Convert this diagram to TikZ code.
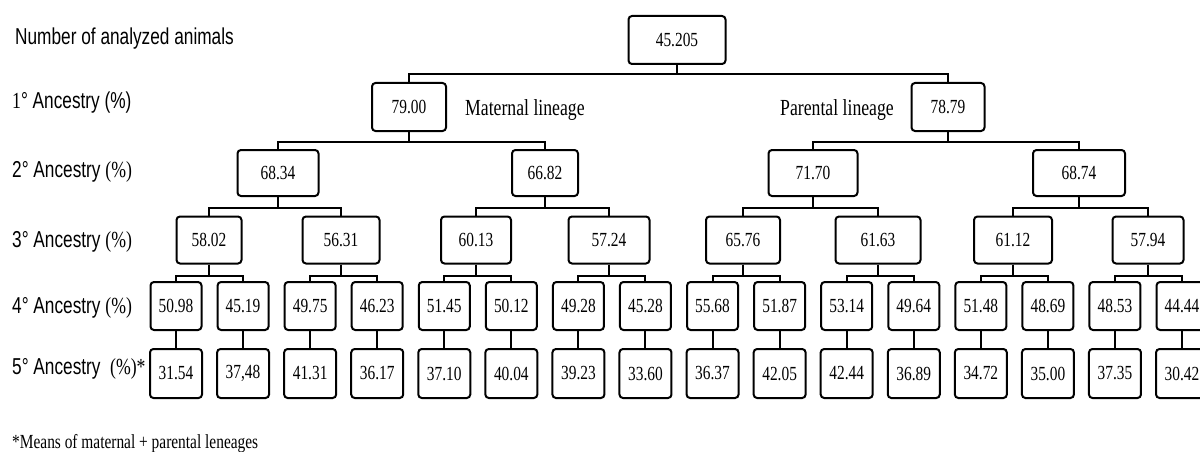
\documentclass[tikz,border=0pt]{standalone}
\usepackage{fontspec}
\setmainfont{Liberation Serif}
\newfontfamily\numfont{Liberation Serif}[FakeStretch=0.77]
\newfontfamily\rowfont{Liberation Sans}[FakeStretch=0.75]

\tikzset{
  valbox/.style={draw, rounded corners=3.5pt, line width=2pt, inner sep=0pt,
    minimum height=47pt, font=\numfont\fontsize{20}{22}\selectfont},
  link/.style={line width=2pt},
  rowlabel/.style={anchor=base west, inner sep=0pt,
    font=\rowfont\fontsize{23}{26}\selectfont},
  linelabel/.style={inner sep=0pt, font=\numfont\fontsize{23}{26}\selectfont},
}

\begin{document}
\begin{tikzpicture}[x=1pt, y=-1pt]
\useasboundingbox (0,0) rectangle (1200,452);

% 1. row labels on the left
\node[rowlabel] (n0) at (15,45) {Number of analyzed animals};
\node[rowlabel] (n1) at (12,109) {{\numfont 1}° Ancestry (\%)};
\node[rowlabel] (n2) at (12,177) {2° Ancestry {\numfont(\%)}};
\node[rowlabel] (n3) at (12,247) {3° Ancestry {\numfont(\%)}};
\node[rowlabel] (n4) at (12,313) {4° Ancestry {\numfont(\%)}};
\node[rowlabel] (n5) at (12,374) {5° Ancestry\ \ {\numfont(\%)*}};
\node[anchor=base west, inner sep=0pt, font=\numfont\fontsize{20}{22}\selectfont]
  (note) at (12,448) {*Means of maternal + parental leneages};

% 2. root and 1st ancestry
\node[valbox, minimum width=97pt, minimum height=48pt] (r) at (677,40) {45.205};
\node[valbox, minimum width=74pt, minimum height=48pt] (a1) at (409,107) {79.00};
\node[valbox, minimum width=73pt, minimum height=48pt] (a2) at (948,107) {78.79};
\node[linelabel, anchor=base west] (mat) at (465,115) {Maternal lineage};
\node[linelabel, anchor=base east] (pat) at (894,115) {Parental lineage};
\draw[link] (r.south) -- ++(0,9) -| (a1.north);
\draw[link] (r.south) -- ++(0,9) -| (a2.north);

% 3. 2nd ancestry
\foreach \i/\x/\w/\v in {1/278/81/68.34, 2/545/66/66.82, 3/813/89/71.70, 4/1079/92/68.74}
  {\node[valbox, minimum width=\w pt, minimum height=46pt] (b\i) at (\x,173) {\v};}
\foreach \p/\ka/\kb in {1/1/2, 2/3/4}
  {\draw[link] (a\p.south) -- ++(0,10) -| (b\ka.north);
   \draw[link] (a\p.south) -- ++(0,10) -| (b\kb.north);
  }

% 4. 3rd ancestry
\foreach \i/\x/\w/\v in
    {1/209/65/58.02, 2/341/77/56.31, 3/476/70/60.13, 4/609/81/57.24,
     5/743/74/65.76, 6/878/85/61.63, 7/1013/78/61.12, 8/1148/71/57.94}
  {\node[valbox, minimum width=\w pt] (c\i) at (\x,240) {\v};}
\foreach \p in {1,...,4}
  {\pgfmathtruncatemacro\ka{2*\p-1}
   \pgfmathtruncatemacro\kb{2*\p}
   \draw[link] (b\p.south) -- ++(0,11) -| (c\ka.north);
   \draw[link] (b\p.south) -- ++(0,11) -| (c\kb.north);
  }

% 5. 4th and 5th ancestry
\foreach \i/\v/\u in
    {1/50.98/31.54, {2/45.19/37,48}, 3/49.75/41.31, 4/46.23/36.17,
     5/51.45/37.10, 6/50.12/40.04, 7/49.28/39.23, 8/45.28/33.60,
     9/55.68/36.37, 10/51.87/42.05, 11/53.14/42.44, 12/49.64/36.89,
     13/51.48/34.72, 14/48.69/35.00, 15/48.53/37.35, 16/44.44/30.42}
  {\pgfmathsetmacro\xx{176+67.07*(\i-1)}
   \node[valbox, minimum width=51pt, minimum height=48pt] (d\i) at (\xx,306) {\v};
   \node[valbox, minimum width=52pt, minimum height=49pt] (e\i) at (\xx,373.5) {\u};
   \draw[link] (d\i) -- (e\i);
  }
\foreach \p in {1,...,8}
  {\pgfmathtruncatemacro\ka{2*\p-1}
   \pgfmathtruncatemacro\kb{2*\p}
   \draw[link] (c\p.south) -- ++(0,11) -| (d\ka.north);
   \draw[link] (c\p.south) -- ++(0,11) -| (d\kb.north);
  }
\end{tikzpicture}
\end{document}
